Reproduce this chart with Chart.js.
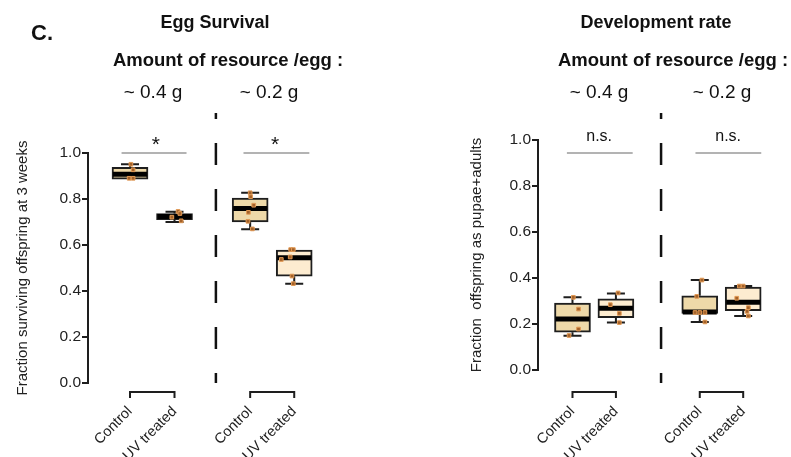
<!DOCTYPE html>
<html>
<head>
<meta charset="utf-8">
<script src="https://cdn.jsdelivr.net/npm/chart.js@4/dist/chart.umd.min.js"></script>
<style>
  body { margin: 0; background: #fff; width: 791px; height: 457px; position: relative; overflow: hidden;
         font-family: "Liberation Sans", Arial, sans-serif; color: #111; }
  canvas { position: absolute; top: 0; }
  .t { position: absolute; transform: translate(-50%, -50%); white-space: nowrap; line-height: 1; }
  .b { font-weight: bold; }
</style>
</head>
<body>
<canvas id="egg" width="400" height="457" style="left:0"></canvas>
<canvas id="dev" width="391" height="457" style="left:400px"></canvas>

<div class="t b" style="left:42px;top:33px;font-size:22px">C.</div>
<div class="t b" style="left:215px;top:22px;font-size:18px">Egg Survival</div>
<div class="t b" style="left:228px;top:60px;font-size:18.5px">Amount of resource /egg :</div>
<div class="t" style="left:153px;top:91px;font-size:19px">~ 0.4 g</div>
<div class="t" style="left:269px;top:91px;font-size:19px">~ 0.2 g</div>

<div class="t b" style="left:656px;top:22px;font-size:18px">Development rate</div>
<div class="t b" style="left:673px;top:60px;font-size:18.5px">Amount of resource /egg :</div>
<div class="t" style="left:599px;top:91px;font-size:19px">~ 0.4 g</div>
<div class="t" style="left:722px;top:91px;font-size:19px">~ 0.2 g</div>

<script>
// groups along x (control / UV treated, for ~0.4 g then ~0.2 g)
const groups = ['Control', 'UV treated', 'Control', 'UV treated'];

// Egg survival: box stats + individual points
const eggQ1  = [0.886, 0.710, 0.700, 0.464];
const eggMed = [0.908, 0.724, 0.759, 0.545];
const eggQ3  = [0.938, 0.737, 0.804, 0.578];
const eggLo  = [0.886, 0.700, 0.669, 0.432];
const eggHi  = [0.951, 0.745, 0.827, 0.578];
const eggPts = [
  [0.951, 0.927, 0.890, 0.890],
  [0.746, 0.737, 0.721, 0.705],
  [0.827, 0.810, 0.773, 0.742, 0.703, 0.670],
  [0.580, 0.580, 0.548, 0.537, 0.465, 0.432]
];
const eggJit = [
  [0.02, 0.07, -0.02, 0.07],
  [0.08, 0.12, -0.06, 0.15],
  [0.00, 0.01, 0.08, -0.04, -0.05, 0.05],
  [-0.08, -0.02, -0.09, -0.29, -0.05, -0.02]
];
const eggSig = ['*', '*'];

// Development rate
const devQ1  = [0.164, 0.227, 0.246, 0.258];
const devMed = [0.222, 0.268, 0.252, 0.295];
const devQ3  = [0.291, 0.309, 0.323, 0.360];
const devLo  = [0.149, 0.206, 0.209, 0.235];
const devHi  = [0.316, 0.333, 0.391, 0.365];
const devPts = [
  [0.316, 0.265, 0.178, 0.150],
  [0.335, 0.284, 0.246, 0.206],
  [0.391, 0.320, 0.250, 0.250, 0.250, 0.209],
  [0.365, 0.365, 0.312, 0.271, 0.255, 0.235]
];
const devJit = [
  [0.02, 0.14, 0.14, -0.08],
  [0.05, -0.13, 0.08, 0.08],
  [0.05, -0.07, -0.11, 0.00, 0.12, 0.12],
  [-0.09, 0.00, -0.15, 0.12, 0.09, 0.12]
];
const devSig = ['n.s.', 'n.s.'];

const yTicks = [0, 0.2, 0.4, 0.6, 0.8, 1.0];

Chart.defaults.font.family = '"Liberation Sans", Arial, sans-serif';
Chart.defaults.color = '#222';

const boxFill = ['#eed9a9', '#fdecd0', '#eed9a9', '#fdecd0'];
const ink = '#1e1e1e';

function makePanel(id, d, L) {
  const boxes = groups.map((g, i) => ({ x: L.pos[i], y: [d.q1[i], d.q3[i]] }));
  const pts = [];
  d.pts.forEach((arr, g) => arr.forEach((v, k) => pts.push({ x: L.pos[g] + d.jit[g][k], y: v })));

  const extras = {
    id: 'extras',
    afterDatasetDraw(chart, args) {
      if (args.meta.type !== 'bar') return;
      const { ctx, scales: { x, y } } = chart;
      ctx.save();
      ctx.strokeStyle = ink;
      groups.forEach((g, i) => {
        const px = x.getPixelForValue(L.pos[i]);
        const hw = 18, cw = 9;
        ctx.lineWidth = 2;
        [[d.q3[i], d.hi[i]], [d.q1[i], d.lo[i]]].forEach(([a, b]) => {
          if (Math.abs(a - b) < 0.004) return;
          ctx.beginPath();
          ctx.moveTo(px, y.getPixelForValue(a));
          ctx.lineTo(px, y.getPixelForValue(b));
          ctx.moveTo(px - cw, y.getPixelForValue(b));
          ctx.lineTo(px + cw, y.getPixelForValue(b));
          ctx.stroke();
        });
        ctx.lineWidth = 5;
        ctx.strokeStyle = '#000';
        ctx.beginPath();
        ctx.moveTo(px - hw + 1, y.getPixelForValue(d.med[i]));
        ctx.lineTo(px + hw - 1, y.getPixelForValue(d.med[i]));
        ctx.stroke();
        ctx.strokeStyle = ink;
      });
      ctx.restore();
    },
    afterDraw(chart) {
      const { ctx, chartArea, scales: { x, y } } = chart;
      ctx.save();
      // dashed separator between the two resource levels
      ctx.strokeStyle = '#111';
      ctx.lineWidth = 2.5;
      ctx.setLineDash([22, 24]);
      ctx.lineDashOffset = 16;
      ctx.beginPath();
      ctx.moveTo(x.getPixelForValue(L.sep), y.getPixelForValue(L.sepSpan[1]));
      ctx.lineTo(x.getPixelForValue(L.sep), y.getPixelForValue(L.sepSpan[0]));
      ctx.stroke();
      ctx.setLineDash([]);
      // brackets under each pair
      ctx.strokeStyle = ink;
      ctx.lineWidth = 2;
      const by = chartArea.bottom + L.bracketDrop;
      [[0, 1], [2, 3]].forEach(([a, b]) => {
        const xa = x.getPixelForValue(L.pos[a]), xb = x.getPixelForValue(L.pos[b]);
        ctx.beginPath();
        ctx.moveTo(xa, by + 6);
        ctx.lineTo(xa, by);
        ctx.lineTo(xb, by);
        ctx.lineTo(xb, by + 6);
        ctx.stroke();
      });
      // significance lines and labels
      ctx.strokeStyle = '#9a9a9a';
      ctx.lineWidth = 1.5;
      ctx.fillStyle = '#111';
      ctx.textAlign = 'center';
      ctx.textBaseline = 'alphabetic';
      ctx.font = L.sigFont;
      L.sigSpan.forEach((s, i) => {
        const ly = y.getPixelForValue(L.sigY);
        ctx.beginPath();
        ctx.moveTo(x.getPixelForValue(s[0]), ly);
        ctx.lineTo(x.getPixelForValue(s[1]), ly);
        ctx.stroke();
        ctx.fillText(d.sig[i], x.getPixelForValue(L.sigTextX[i]), y.getPixelForValue(L.sigTextY));
      });
      ctx.restore();
    }
  };

  return new Chart(document.getElementById(id), {
    type: 'bar',
    data: {
      datasets: [
        {
          type: 'scatter',
          data: pts,
          pointStyle: 'rect',
          pointRadius: 2.6,
          backgroundColor: '#a3622b',
          borderColor: '#e29a55',
          borderWidth: 1,
          order: 1
        },
        {
          type: 'bar',
          data: boxes,
          backgroundColor: boxFill,
          borderColor: ink,
          borderWidth: 2,
          borderSkipped: false,
          barThickness: 36,
          order: 2
        }
      ]
    },
    options: {
      responsive: false,
      animation: false,
      layout: { padding: L.pad },
      plugins: { legend: { display: false }, tooltip: { enabled: false } },
      scales: {
        x: {
          type: 'linear',
          min: L.xMin,
          max: L.xMax,
          offset: false,
          grid: { display: false, drawTicks: false },
          border: { display: false },
          afterBuildTicks: s => { s.ticks = L.pos.map(v => ({ value: v })); },
          afterFit: s => { s.height = L.xHeight; s.paddingLeft = 0; s.paddingRight = 0; },
          ticks: {
            autoSkip: false,
            minRotation: 45,
            maxRotation: 45,
            padding: L.tickPad,
            font: { size: 14.5 },
            color: '#222',
            callback: (v, i) => groups[i]
          }
        },
        y: {
          min: 0,
          max: 1,
          afterBuildTicks: s => { s.ticks = yTicks.map(v => ({ value: v })); },
          afterFit: s => { s.width = L.yWidth; s.paddingTop = 0; s.paddingBottom = 0; },
          grid: { drawOnChartArea: false, drawTicks: true, tickLength: 6, color: ink, lineWidth: 2 },
          border: { display: true, color: ink, width: 2 },
          ticks: { padding: 1, font: { size: 15.5 }, color: '#222', callback: v => v.toFixed(1) },
          title: { display: true, text: L.yTitle, font: { size: 15 }, color: '#222', padding: { top: 5, bottom: 0 } }
        }
      }
    },
    plugins: [extras]
  });
}

makePanel('egg',
  { q1: eggQ1, med: eggMed, q3: eggQ3, lo: eggLo, hi: eggHi, pts: eggPts, jit: eggJit, sig: eggSig },
  {
    yTitle: 'Fraction surviving offspring at 3 weeks',
    pos: [1, 2, 3.70, 4.69], sep: 2.93, xMin: 0.056, xMax: 5.494,
    pad: { left: 9, top: 153, right: 70, bottom: 0 }, yWidth: 79, xHeight: 74, tickPad: 20,
    sepSpan: [0, 1.174], bracketDrop: 9,
    sigY: 1.0, sigTextY: 1.009, sigFont: '21px "Liberation Sans", Arial, sans-serif',
    sigSpan: [[0.81, 2.27], [3.55, 5.03]], sigTextX: [1.58, 4.26]
  });

makePanel('dev',
  { q1: devQ1, med: devMed, q3: devQ3, lo: devLo, hi: devHi, pts: devPts, jit: devJit, sig: devSig },
  {
    yTitle: 'Fraction  offspring as pupae+adults',
    pos: [1, 2.01, 3.96, 4.97], sep: 3.06, xMin: 0.198, xMax: 5.826,
    pad: { left: 63, top: 140, right: 11, bottom: 0 }, yWidth: 75, xHeight: 87, tickPad: 33,
    sepSpan: [-0.0565, 1.117], bracketDrop: 22,
    sigY: 0.943, sigTextY: 0.997, sigFont: '16px "Liberation Sans", Arial, sans-serif',
    sigSpan: [[0.87, 2.40], [3.86, 5.39]], sigTextX: [1.62, 4.62]
  });
</script>
</body>
</html>
